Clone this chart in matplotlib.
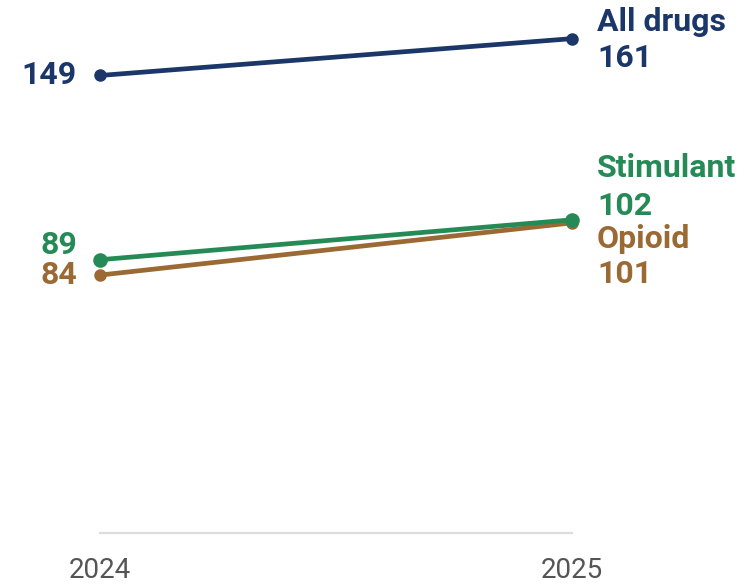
import matplotlib
matplotlib.use("Agg")
import matplotlib.pyplot as plt

years = [2024, 2025]
series = ["All drugs", "Stimulant", "Opioid"]
values = {
    "All drugs": [149, 161],
    "Stimulant": [89, 102],
    "Opioid": [84, 101],
}
colors = {"All drugs": "#1b3668", "Stimulant": "#268a56", "Opioid": "#9b6a34"}

# label offsets in pixels: (left value dy, right name dy, right value dy)
offsets = {
    "All drugs": (0, 17, -19),
    "Stimulant": (15, 52, 14),
    "Opioid": (0, -16, -51),
}

fig = plt.figure(figsize=(7.56, 5.85), dpi=100)
ax = fig.add_axes([100 / 756, 52 / 585, 472 / 756, 522 / 585])
ax.set_xlim(2024, 2025)
ax.set_ylim(0, 170)
ax.axis("off")
ax.plot(years, [0, 0], color="#dddddd", lw=1.6, zorder=1, clip_on=False)

ms = {"All drugs": 8, "Stimulant": 9.5, "Opioid": 8}
for name in ["All drugs", "Opioid", "Stimulant"]:
    v = values[name]
    c = colors[name]
    ax.plot(years, v, color=c, lw=3.4, marker="o", ms=ms[name], zorder=3,
            clip_on=False, solid_capstyle="round")
    dl, dn, dv = offsets[name]
    ax.annotate(str(v[0]), (years[0], v[0]), xytext=(-23, dl), textcoords="offset pixels",
                ha="right", va="center", color=c, fontsize=23, fontweight="bold",
                family="Roboto")
    ax.annotate(name, (years[1], v[1]), xytext=(25, dn), textcoords="offset pixels",
                ha="left", va="center", color=c, fontsize=23, fontweight="bold",
                family="Roboto")
    ax.annotate(str(v[1]), (years[1], v[1]), xytext=(25, dv), textcoords="offset pixels",
                ha="left", va="center", color=c, fontsize=23, fontweight="bold",
                family="Roboto")

for yr in years:
    ax.annotate(str(yr), (yr, 0), xytext=(0, -38), textcoords="offset pixels",
                ha="center", va="center", color="#555555", fontsize=20,
                family="Roboto")

fig.savefig("out.png", dpi=100)
